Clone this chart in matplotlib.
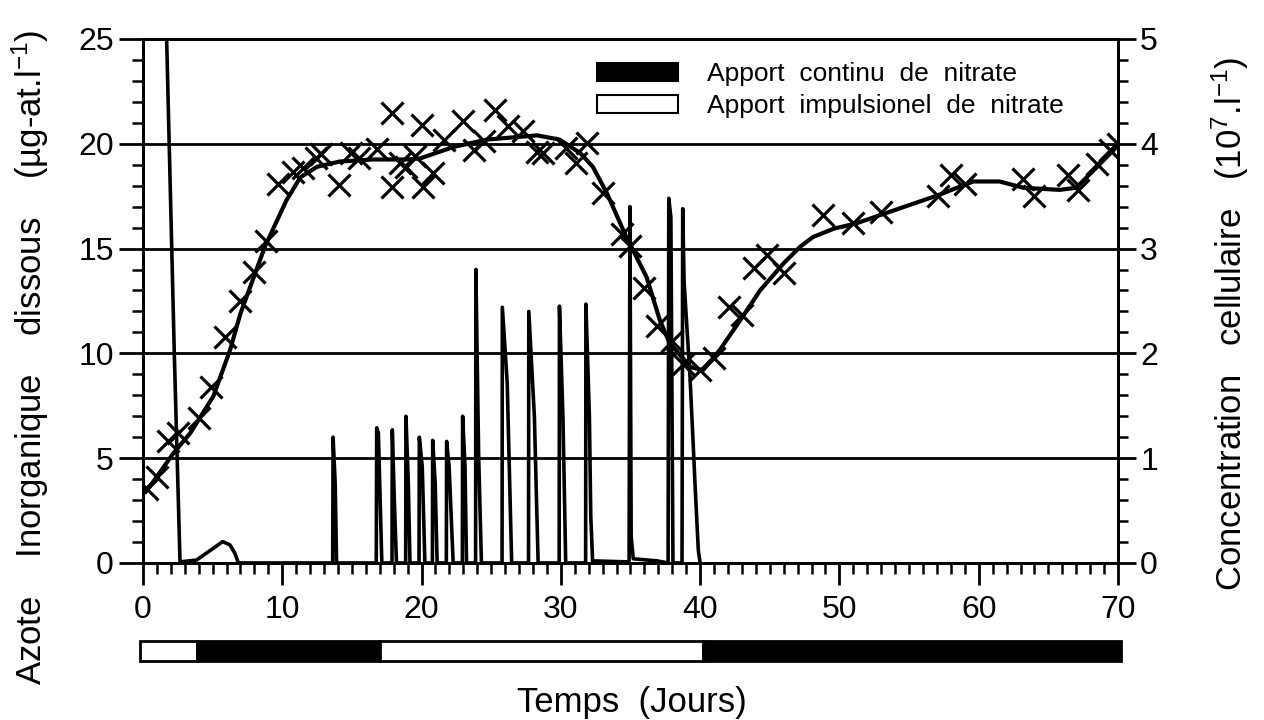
# Nitrate / cellules - reproduction de la figure
import numpy as np
import matplotlib
matplotlib.use('Agg')
import matplotlib.pyplot as plt
from matplotlib.patches import Patch, Rectangle

plt.rcParams['font.family'] = ['Liberation Sans', 'DejaVu Sans']
plt.rcParams['mathtext.fontset'] = 'custom'
plt.rcParams['mathtext.rm'] = 'Liberation Sans'
plt.rcParams['mathtext.it'] = 'Liberation Sans'

# Azote inorganique dissous (axe gauche)
nitrate_jour = [1.55, 1.7, 2.25, 2.66, 3.85, 5.05, 5.72, 6.25, 6.6, 6.85,
                13.62, 13.65, 13.8, 13.9,
                16.75, 16.78, 16.9, 17.15,
                17.88, 17.9, 18.05, 18.2,
                18.86, 18.88, 19.05, 19.17,
                19.82, 19.84, 20.05, 20.24,
                20.78, 20.8, 20.98, 21.12,
                21.78, 21.8, 21.98, 22.27,
                22.93, 22.95, 23.12, 23.23,
                23.88, 23.9, 24.1, 24.3,
                25.78, 25.8, 26.15, 26.47,
                27.68, 27.7, 28.1, 28.37,
                29.88, 29.9, 30.15, 30.35,
                31.78, 31.8, 32.05, 32.15, 32.28, 34.9,
                34.96, 35.05, 35.2, 36.9, 37.7,
                37.75, 37.9, 38.05, 38.7,
                38.75, 38.85, 39.27, 39.5, 39.63, 39.87, 40.0]
nitrate_val = [30, 25, 10, 0.05, 0.14, 0.7, 1.02, 0.86, 0.46, 0.0,
               0, 6.0, 3.8, 0,
               0, 6.45, 6.2, 0,
               0, 6.35, 2.9, 0,
               0, 7.0, 3.8, 0,
               0, 6.0, 4.6, 0,
               0, 5.85, 3.8, 0,
               0, 5.8, 4.6, 0,
               0, 7.0, 4.6, 0,
               0, 14.0, 5.1, 0,
               0, 12.2, 8.6, 0,
               0, 12.0, 7.0, 0,
               0, 12.25, 7.0, 0,
               0, 12.35, 7.0, 2.2, 0.1, 0.05,
               17.0, 1.25, 0.2, 0.1, 0,
               17.4, 16.5, 0, 0,
               16.9, 13.4, 8.9, 5.7, 3.8, 0.6, 0]

# Concentration cellulaire (10^7 cellules/l, axe droit) - points mesures
cell_jour = [0.3, 1.0, 1.8, 2.5, 4.0, 4.9, 5.9, 7.0, 8.0, 8.8,
             9.7, 10.8, 11.5, 12.4, 12.8, 14.1, 14.9, 15.5, 16.8, 17.85,
             17.85, 18.45, 18.9, 19.5, 20.0, 20.1, 20.8, 21.6, 23.0, 23.8,
             24.5, 25.3, 26.2, 27.3, 28.3, 28.7, 30.4, 31.1, 31.85, 33.0,
             34.4, 35.0, 36.0, 36.9, 37.95, 38.8, 40.0, 41.0, 42.1, 43.0,
             43.9, 44.8, 46.0, 48.85, 51.0, 53.0, 57.05, 58.0, 59.0, 63.2,
             64.0, 66.4, 67.15, 68.5, 69.4, 70.0]
cell_val = [0.71, 0.82, 1.16, 1.24, 1.38, 1.68, 2.16, 2.50, 2.78, 3.07,
            3.62, 3.73, 3.77, 3.86, 3.90, 3.61, 3.91, 3.86, 3.95, 4.29,
            3.59, 3.82, 3.78, 3.88, 4.18, 3.59, 3.72, 4.04, 4.22, 3.94,
            4.03, 4.32, 4.17, 4.12, 3.92, 3.91, 3.96, 3.82, 4.01, 3.53,
            3.14, 3.02, 2.62, 2.26, 2.12, 1.90, 1.84, 1.96, 2.44, 2.37,
            2.81, 2.94, 2.77, 3.32, 3.24, 3.35, 3.50, 3.70, 3.62, 3.66,
            3.50, 3.70, 3.56, 3.81, 3.94, 4.00]

# courbe lissee
lisse_jour = [0.2, 0.5, 2.2, 3.4, 5.05, 6.25, 7.0, 8.76, 10.3, 11.3,
              12.5, 14.1, 16.5, 18.9, 19.9, 22.3, 24.7, 28.3, 29.9, 31.4,
              32.3, 33.3, 34.7, 36.15, 37.1, 37.8, 39.3, 40.2, 41.4, 42.9,
              44.3, 46.0, 47.2, 48.1, 49.6, 51.2, 53.6, 57.1, 59.6, 61.5,
              63.2, 65.8, 67.0, 68.5, 69.9]
lisse_val = [0.68, 0.73, 1.05, 1.24, 1.59, 2.03, 2.38, 3.02, 3.46, 3.68,
             3.78, 3.83, 3.85, 3.85, 3.86, 3.97, 4.04, 4.08, 4.04, 3.91,
             3.78, 3.53, 3.11, 2.73, 2.32, 2.10, 1.87, 1.84, 2.03, 2.32,
             2.60, 2.86, 3.02, 3.11, 3.19, 3.24, 3.35, 3.51, 3.64, 3.64,
             3.58, 3.56, 3.58, 3.78, 3.97]

# regimes d'apport (barre du bas): 1 = continu (noir), 0 = impulsionel (blanc)
regime_debut = [-0.2, 3.9, 17.0, 40.2]
regime_fin = [3.9, 17.0, 40.2, 70.2]
regime_type = [0, 1, 0, 1]

fig = plt.figure(figsize=(12.64, 7.2), dpi=100)
ax = fig.add_axes([0.1131, 0.2181, 0.7714, 0.7278])
ax2 = ax.twinx()

# grille horizontale
for yv in [5, 10, 15, 20]:
    ax.axhline(yv, color='black', lw=2, zorder=1)

ax.plot(nitrate_jour, nitrate_val, color='black', lw=2.6, zorder=3)

ax2.plot(lisse_jour, lisse_val, color='black', lw=3, zorder=3)
ax2.plot(cell_jour, cell_val, ls='none', marker='x', ms=16, mew=2.3,
         color='black', zorder=4)

ax.set_xlim(0, 70)
ax.set_ylim(0, 25)
ax2.set_ylim(0, 5)

for a in (ax, ax2):
    for s in a.spines.values():
        s.set_linewidth(2)

ax.set_xticks(np.arange(0, 71, 10))
ax.set_xticks(np.arange(0, 71, 1), minor=True)
ax.set_yticks(np.arange(0, 26, 5))
ax.set_yticks(np.arange(0, 26, 1), minor=True)
ax2.set_yticks(np.arange(0, 6, 1))
ax2.set_yticks(np.arange(0, 5.01, 0.2), minor=True)

ax.tick_params(axis='x', which='major', direction='out', length=16, width=2,
               labelsize=23, pad=7)
ax.tick_params(axis='x', which='minor', direction='out', length=8, width=1.8)
ax.tick_params(axis='y', which='major', direction='out', length=17, width=2,
               labelsize=23, pad=4)
ax.tick_params(axis='y', which='minor', direction='out', length=8, width=1.8)
ax2.tick_params(axis='y', which='major', direction='out', length=13, width=2,
                labelsize=23, pad=3)
ax2.tick_params(axis='y', which='minor', direction='out', length=7, width=1.8)

# legende
handles = [Patch(facecolor='black', edgecolor='black', lw=1.5),
           Patch(facecolor='white', edgecolor='black', lw=1.5)]
labels = ['Apport  continu  de  nitrate', 'Apport  impulsionel  de  nitrate']
ax.legend(handles, labels, loc='upper left', bbox_to_anchor=(0.4615, 0.932),
          bbox_transform=fig.transFigure, frameon=False, fontsize=19,
          handlelength=3.1, handleheight=0.7, handletextpad=1.1,
          labelspacing=0.3, borderpad=0)

# barre des regimes
axb = fig.add_axes([0.1131, 0.0819, 0.7714, 0.0278])
axb.set_xlim(0, 70)
axb.set_ylim(0, 1)
axb.axis('off')
for d, f, t in zip(regime_debut, regime_fin, regime_type):
    axb.add_patch(Rectangle((d, 0), f - d, 1,
                            facecolor='black' if t == 1 else 'white',
                            edgecolor='black', lw=2, clip_on=False))

fig.text(0.5, 0.024, 'Temps  (Jours)', ha='center', va='center', fontsize=25)
fig.text(0.024, 0.504, 'Azote    Inorganique    dissous    (µg-at.l$^{-1}$)',
         rotation=90, ha='center', va='center', fontsize=25)
fig.text(0.973, 0.55, 'Concentration   cellulaire   (10$^{7}$.l$^{-1}$)',
         rotation=90, ha='center', va='center', fontsize=25)

fig.savefig('out.png', dpi=100)
